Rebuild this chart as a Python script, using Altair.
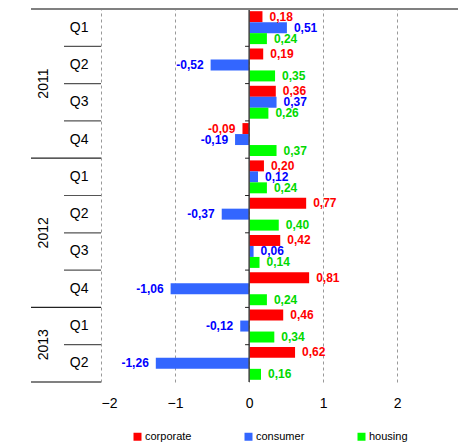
import altair as alt
import pandas as pd

years = ["2011", "2011", "2011", "2011", "2012", "2012", "2012", "2012", "2013", "2013"]
quarters = ["Q1", "Q2", "Q3", "Q4", "Q1", "Q2", "Q3", "Q4", "Q1", "Q2"]
corporate = [0.18, 0.19, 0.36, -0.09, 0.20, 0.77, 0.42, 0.81, 0.46, 0.62]
consumer = [0.51, -0.52, 0.37, -0.19, 0.12, -0.37, 0.06, -1.06, -0.12, -1.26]
housing = [0.24, 0.35, 0.26, 0.37, 0.24, 0.40, 0.14, 0.24, 0.34, 0.16]
series = ["corporate", "consumer", "housing"]
bar_colors = ["#FF0000", "#3366FF", "#00FF00"]
text_colors = ["#FF0000", "#0000FF", "#00D800"]
x_ticks = [-2, -1, 0, 1, 2]

rows = [f"{y} {q}" for y, q in zip(years, quarters)]
recs = []
for i, r in enumerate(rows):
    for s, vals in zip(series, [corporate, consumer, housing]):
        v = vals[i]
        recs.append({"row": r, "series": s, "value": v,
                     "label": f"{v:.2f}".replace(".", ",")})
df = pd.DataFrame(recs)

FONT = "Liberation Sans"
xaxis = alt.Axis(values=x_ticks, grid=True, gridDash=[3, 3], gridColor="#999999",
                 gridWidth=1, domain=False, ticks=False, labelFontSize=14,
                 labelFont=FONT, labelColor="#000000", labelPadding=14, title=None)
yaxis = alt.Axis(labelExpr="split(datum.label, ' ')[1]", domain=False, ticks=False,
                 labelFontSize=14, labelFont=FONT, labelColor="#000000",
                 labelPadding=13, title=None, grid=False)
xsc = alt.Scale(domain=[-2, 2.82], nice=False, zero=False)
ysc = alt.Scale(paddingInner=0, paddingOuter=0)

def X(field="value"):
    return alt.X(f"{field}:Q", scale=xsc, axis=xaxis)

def Y(field="row", bp=None):
    if bp is None:
        return alt.Y(f"{field}:N", sort=rows, scale=ysc, axis=yaxis)
    return alt.Y(f"{field}:N", sort=rows, scale=ysc, axis=yaxis, bandPosition=bp)

yoff = alt.YOffset("series:N", sort=series,
                   scale=alt.Scale(paddingOuter=0.2, paddingInner=0))

base = alt.Chart(df)
bars = base.mark_bar().encode(
    x=X(), y=Y(), yOffset=yoff,
    color=alt.Color("series:N", sort=series,
                    scale=alt.Scale(domain=series, range=bar_colors),
                    legend=alt.Legend(orient="none", legendX=31, legendY=422,
                                      direction="horizontal", title=None,
                                      symbolType="square", symbolSize=64,
                                      symbolStrokeWidth=0, labelFontSize=11,
                                      labelFont=FONT, columnPadding=51,
                                      labelOffset=2)),
)
tcolor = alt.Color("series:N", sort=series,
                   scale=alt.Scale(domain=series, range=text_colors), legend=None)
pos_lbl = base.transform_filter("datum.value >= 0").mark_text(
    align="left", baseline="middle", dx=7, fontSize=12, fontWeight="bold", font=FONT
).encode(x=X(), y=Y(), yOffset=yoff, text="label:N", color=tcolor)
neg_lbl = base.transform_filter("datum.value < 0").mark_text(
    align="right", baseline="middle", dx=-7, fontSize=12, fontWeight="bold", font=FONT
).encode(x=X(), y=Y(), yOffset=yoff, text="label:N", color=tcolor)

# separators
q_sep = pd.DataFrame({"row": ["2011 Q2", "2011 Q3", "2011 Q4", "2012 Q2", "2012 Q3",
                              "2012 Q4", "2013 Q2"]})
y_sep = pd.DataFrame({"row": ["2012 Q1", "2013 Q1"]})
all_sep = pd.DataFrame({"row": rows[1:]})
top = pd.DataFrame({"row": [rows[0]]})
bot = pd.DataFrame({"row": [rows[-1]]})
zero = pd.DataFrame({"zero": [0]})

qrule = alt.Chart(q_sep).mark_rule(color="#555555", strokeWidth=1.2).encode(
    y=Y(bp=0), x=alt.value(-37), x2=alt.value(0))
yrule = alt.Chart(y_sep).mark_rule(color="#222222", strokeWidth=1.2).encode(
    y=Y(bp=0), x=alt.value(-70), x2=alt.value(0))
toprule = alt.Chart(top).mark_rule(color="#808080", strokeWidth=2).encode(
    y=Y(bp=0), x=alt.value(-70), x2=alt.value(400))
botrule = alt.Chart(bot).mark_rule(color="#808080", strokeWidth=2).encode(
    y=Y(bp=1), x=alt.value(-70), x2=alt.value(0))
zrule = alt.Chart(zero).mark_rule(color="#444444", strokeWidth=1.5).encode(
    x=X("zero"), y=alt.value(0), y2=alt.value(373))
zticks = alt.Chart(all_sep).transform_calculate(z="0", t="-0.055").mark_rule(
    color="#222222", strokeWidth=1).encode(
    y=Y(bp=0), x=alt.X("z:Q", scale=xsc, axis=xaxis), x2="t:Q")

year_lbl = pd.DataFrame({"year": ["2011", "2012", "2013"],
                         "row": ["2011 Q3", "2012 Q3", "2013 Q2"]})
ytext = alt.Chart(year_lbl).mark_text(angle=270, fontSize=14, font=FONT,
                                      color="#000000", baseline="middle",
                                      align="center").encode(
    y=Y(bp=0), x=alt.value(-57), text="year:N")

chart = alt.layer(
    bars, zrule, zticks, qrule, yrule, toprule, botrule, pos_lbl, neg_lbl, ytext
).resolve_scale(color="independent").properties(
    width=357, height=373,
    autosize=alt.AutoSizeParams(type="none"),
    padding={"left": 93, "top": 1, "right": 0, "bottom": 62},
).configure_view(stroke=None)

chart.save("out.html", embed_options={"renderer": "svg", "actions": False})
